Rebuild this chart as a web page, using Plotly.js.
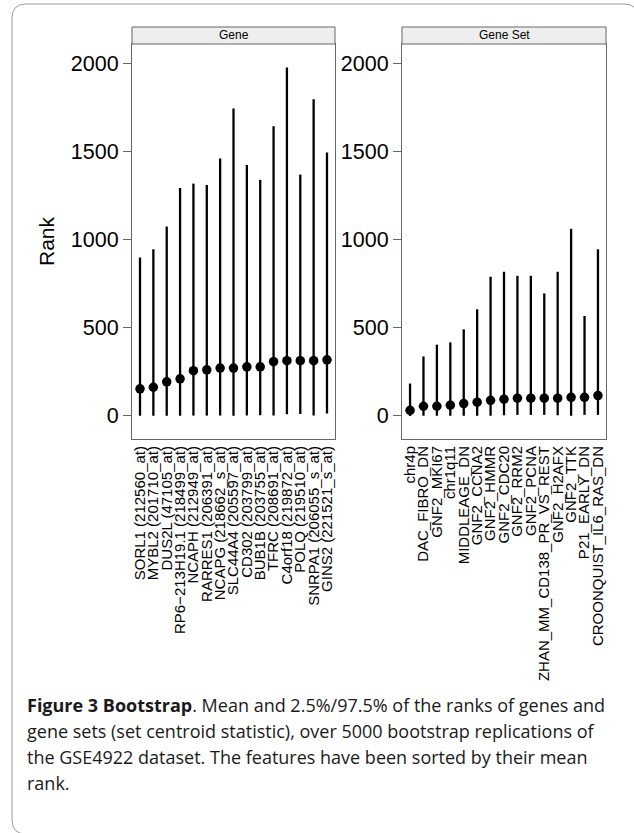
<!DOCTYPE html>
<html>
<head>
<meta charset="utf-8">
<script src="https://cdn.plot.ly/plotly-3.0.1.min.js"></script>
<style>html,body{margin:0;padding:0;background:#fff;}#chart{width:634px;height:833px;}</style>
</head>
<body>
<div id="chart"></div>
<script>
// ---- Data ----
const geneLabels = ["SORL1 (212560_at)", "MYBL2 (201710_at)", "DUS2L (47105_at)", "RP6\u2212213H19.1 (218499_at)", "NCAPH (212949_at)", "RARRES1 (206391_at)", "NCAPG (218662_s_at)", "SLC44A4 (205597_at)", "CD302 (203799_at)", "BUB1B (203755_at)", "TFRC (208691_at)", "C4orf18 (219872_at)", "POLQ (219510_at)", "SNRPA1 (206055_s_at)", "GINS2 (221521_s_at)"];
const geneMean = [154, 163, 194, 211, 257, 262, 272, 272, 279, 279, 308, 314, 314, 314, 319];
const geneLow = [1, 1, 1, 1, 2, 2, 2, 1, 3, 4, 2, 10, 11, 2, 14];
const geneHigh = [900, 947, 1076, 1295, 1320, 1312, 1462, 1746, 1426, 1341, 1646, 1979, 1371, 1799, 1496];

const setLabels = ["chr4p", "DAC_FIBRO_DN", "GNF2_MKI67", "chr1q11", "MIDDLEAGE_DN", "GNF2_CCNA2", "GNF2_HMMR", "GNF2_CDC20", "GNF2_RRM2", "GNF2_PCNA", "ZHAN_MM_CD138_PR_VS_REST", "GNF2_H2AFX", "GNF2_TTK", "P21_EARLY_DN", "CROONQUIST_IL6_RAS_DN"];
const setMean = [32, 55, 55, 61, 70, 78, 89, 95, 101, 101, 101, 101, 106, 106, 116];
const setLow = [0, 1, 1, 1, 1, 1, 1, 4, 6, 6, 6, 4, 1, 6, 6];
const setHigh = [184, 338, 405, 418, 492, 606, 791, 819, 796, 796, 696, 819, 1063, 568, 947];

const yTicks = [0, 500, 1000, 1500, 2000];
const panelTitles = ["Gene", "Gene Set"];
const yTitle = "Rank";
const captionLines = [
  "<b>Figure 3 Bootstrap</b>. Mean and 2.5%/97.5% of the ranks of genes and",
  "gene sets (set centroid statistic), over 5000 bootstrap replications of",
  "the GSE4922 dataset. The features have been sorted by their mean",
  "rank."
];

// ---- Layout helpers (pixel -> paper) ----
const W = 634, H = 833;
const px = x => x / W;
const py = y => (H - y) / H;

const plotTop = 44, plotBottom = 439, stripTop = 27;
const panels = [{x0: 132, x1: 335}, {x0: 402, x1: 606}];

function errTrace(labels, mean, low, high, xa, ya) {
  return {
    type: 'scatter', mode: 'markers',
    x: labels, y: mean, xaxis: xa, yaxis: ya,
    marker: {color: '#000', size: 9.5},
    error_y: {
      type: 'data', symmetric: false,
      array: high.map((h, i) => h - mean[i]),
      arrayminus: low.map((l, i) => mean[i] - l),
      color: '#000', thickness: 2.3, width: 0
    },
    hoverinfo: 'x+y', showlegend: false
  };
}

const data = [
  errTrace(geneLabels, geneMean, geneLow, geneHigh, 'x', 'y'),
  errTrace(setLabels, setMean, setLow, setHigh, 'x2', 'y2')
];

const xCommon = {
  type: 'category', range: [-0.6, 14.6], showgrid: false, zeroline: false,
  showline: true, mirror: true, linecolor: '#666', linewidth: 1,
  ticks: '', tickangle: -90, ticklabelstandoff: 0,
  tickfont: {family: 'Liberation Sans, Arial, sans-serif', size: 15, color: '#000'},
  fixedrange: true
};
const yCommon = {
  range: [-131, 2113], tickvals: yTicks, showgrid: false, zeroline: false,
  showline: true, mirror: true, linecolor: '#666', linewidth: 1,
  ticks: 'outside', ticklen: 8, tickcolor: '#666', tickwidth: 1,
  tickfont: {family: 'Liberation Sans, Arial, sans-serif', size: 21.5, color: '#000'},
  fixedrange: true
};

const shapes = [];
panels.forEach(p => {
  shapes.push({type: 'rect', xref: 'paper', yref: 'paper',
    x0: px(p.x0), x1: px(p.x1), y0: py(plotTop), y1: py(stripTop),
    fillcolor: '#eeeeee', line: {color: '#666', width: 1}, layer: 'above'});
});
// outer rounded frame
const bx0 = 12, bx1 = 638, by0 = 4, by1 = 834, r = 14;
const rx = r / W, ry = r / H;
shapes.push({type: 'path', xref: 'paper', yref: 'paper', layer: 'below',
  path: `M ${px(bx0)+rx},${py(by0)} L ${px(bx1)-rx},${py(by0)} Q ${px(bx1)},${py(by0)} ${px(bx1)},${py(by0)-ry} L ${px(bx1)},${py(by1)} L ${px(bx0)+rx},${py(by1)} Q ${px(bx0)},${py(by1)} ${px(bx0)},${py(by1)+ry} L ${px(bx0)},${py(by0)-ry} Q ${px(bx0)},${py(by0)} ${px(bx0)+rx},${py(by0)} Z`,
  line: {color: '#9a9a9a', width: 1}});

const annotations = [];
panels.forEach((p, i) => {
  annotations.push({xref: 'paper', yref: 'paper', x: px((p.x0 + p.x1) / 2), y: py((stripTop + plotTop) / 2),
    text: panelTitles[i], showarrow: false, xanchor: 'center', yanchor: 'middle',
    font: {family: 'Liberation Sans, Arial, sans-serif', size: 12, color: '#000'}});
});
const capY = [705, 731, 757, 783];
captionLines.forEach((t, i) => {
  annotations.push({xref: 'paper', yref: 'paper', x: px(25), y: py(capY[i]),
    text: t, showarrow: false, xanchor: 'left', yanchor: 'middle', align: 'left',
    font: {family: 'Open Sans, Noto Sans, sans-serif', size: 18, color: '#1a1a1a'}});
});

const layout = {
  width: W, height: H, margin: {l: 0, r: 0, t: 0, b: 0},
  paper_bgcolor: '#fff', plot_bgcolor: '#fff', showlegend: false,
  xaxis: Object.assign({}, xCommon, {domain: [px(panels[0].x0), px(panels[0].x1)], anchor: 'y',
    tickmode: 'array', tickvals: geneLabels, ticktext: geneLabels}),
  yaxis: Object.assign({}, yCommon, {domain: [py(plotBottom), py(plotTop)], anchor: 'x',
    title: {text: yTitle, font: {family: 'Liberation Sans, Arial, sans-serif', size: 21, color: '#000'}, standoff: 10}}),
  xaxis2: Object.assign({}, xCommon, {domain: [px(panels[1].x0), px(panels[1].x1)], anchor: 'y2',
    tickmode: 'array', tickvals: setLabels, ticktext: setLabels}),
  yaxis2: Object.assign({}, yCommon, {domain: [py(plotBottom), py(plotTop)], anchor: 'x2'}),
  shapes: shapes, annotations: annotations
};

Plotly.newPlot('chart', data, layout, {displayModeBar: false, staticPlot: true});
</script>
</body>
</html>
